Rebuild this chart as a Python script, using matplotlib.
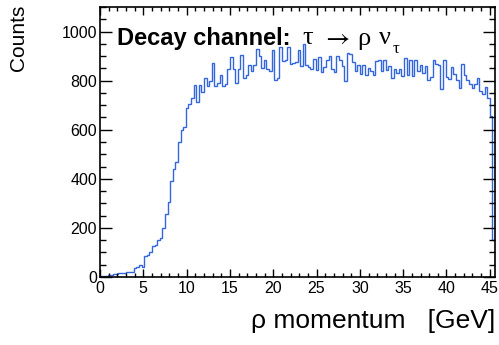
import numpy as np
import matplotlib
matplotlib.use("Agg")
import matplotlib.pyplot as plt
from matplotlib.ticker import MultipleLocator

# rho momentum spectrum, 152 bins of 0.3 GeV from 0 to 45.6 GeV
x_lo, x_hi = 0.0, 45.6
counts = [
    3, 4, 5, 8, 10, 11, 13, 15, 16, 18,
    20, 22, 21, 38, 42, 48, 40, 86, 90, 103,
    128, 132, 150, 160, 200, 255, 305, 390, 440, 470,
    548, 600, 612, 690, 705, 730, 783, 711, 783, 752,
    811, 777, 797, 873, 780, 790, 822, 777, 786, 849,
    895, 849, 790, 849, 906, 811, 825, 862, 838, 865,
    927, 900, 852, 886, 849, 841, 923, 804, 810, 936,
    879, 886, 936, 868, 872, 876, 923, 858, 950, 862,
    854, 849, 890, 845, 895, 836, 854, 886, 900, 849,
    836, 900, 886, 858, 797, 913, 910, 876, 838, 862,
    827, 862, 822, 852, 841, 822, 879, 886, 841, 883,
    845, 858, 811, 849, 831, 849, 818, 893, 825, 883,
    818, 886, 838, 862, 831, 858, 804, 815, 886, 868,
    865, 766, 883, 815, 806, 854, 827, 804, 769, 868,
    822, 804, 786, 769, 786, 811, 756, 745, 773, 729,
    655, 150,
]
edges = np.linspace(x_lo, x_hi, len(counts) + 1)

plt.rcParams["font.family"] = ["Liberation Sans", "DejaVu Sans"]

fig = plt.figure(figsize=(4.99, 3.45), dpi=100)
ax = fig.add_axes([100 / 499, 68 / 345, 395 / 499, 270 / 345])

ax.stairs(counts, edges, color="#3366dd", lw=1.0)

ax.set_xlim(x_lo, x_hi)
ax.set_ylim(0, 1100)
ax.xaxis.set_major_locator(MultipleLocator(5))
ax.xaxis.set_minor_locator(MultipleLocator(1))
ax.yaxis.set_major_locator(MultipleLocator(200))
ax.yaxis.set_minor_locator(MultipleLocator(50))
ax.tick_params(which="both", direction="in", top=True, right=True,
               labelsize=11.5, width=1)
ax.tick_params(axis="x", which="major", length=5.5, pad=3)
ax.tick_params(axis="x", which="minor", length=3)
ax.tick_params(axis="y", which="major", length=8.5, pad=2)
ax.tick_params(axis="y", which="minor", length=4.5)
for s in ax.spines.values():
    s.set_linewidth(1.2)

ax.set_xlabel("ρ momentum   [GeV]", fontsize=19, ha="right", x=1.0, labelpad=9)
ax.set_ylabel("Counts", fontsize=15, ha="right", y=1.01, labelpad=24)

# title-like annotation inside the frame
base = (277 - 44.5) / 270
ax.text(17 / 395, base, "Decay channel:", transform=ax.transAxes,
        fontsize=17, fontweight="bold", ha="left", va="baseline")
greek = ["Liberation Serif", "DejaVu Serif"]
for px, s in [(302, "τ"), (357, "ρ"), (379, "ν")]:
    ax.text((px - 100) / 395, base, s, transform=ax.transAxes,
            fontsize=19, family=greek, ha="left", va="baseline")
ax.text((322 - 100) / 395, base, r"$\rightarrow$", transform=ax.transAxes,
        fontsize=19, math_fontfamily="stix", ha="left", va="baseline")
ax.text((393 - 100) / 395, (277 - 53) / 270, "τ", transform=ax.transAxes,
        fontsize=12, family=greek, ha="left", va="baseline")

fig.savefig("out.png", dpi=100)
